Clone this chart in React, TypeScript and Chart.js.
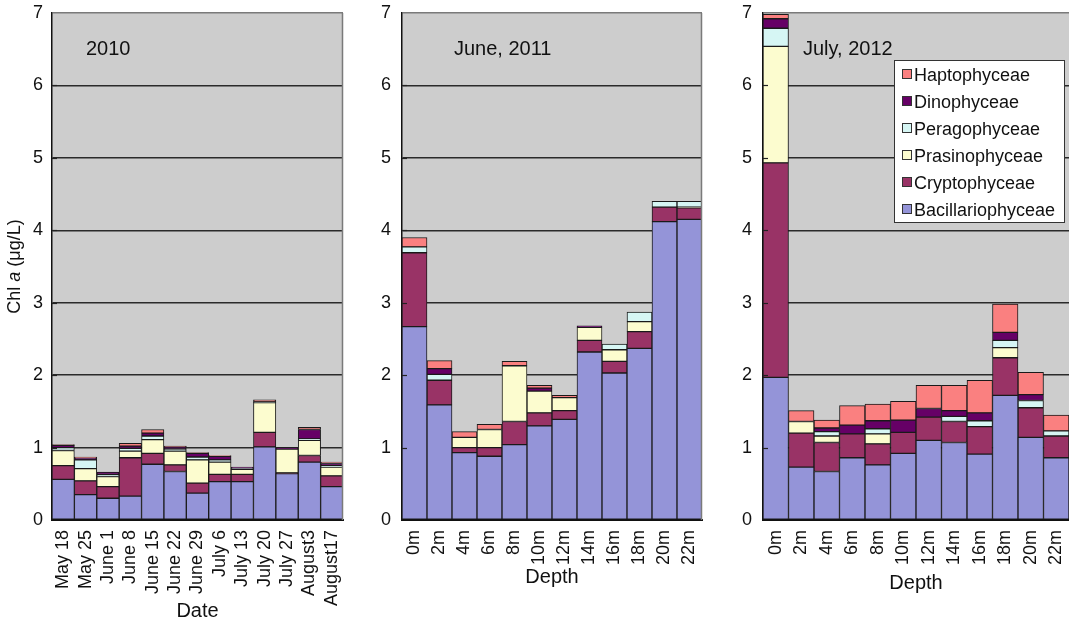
import React, { useEffect, useRef } from 'react';
import { Chart, registerables } from 'chart.js';

Chart.register(...registerables);

const FONT = '"Liberation Sans", Arial, Helvetica, sans-serif';

// ---- series (stack order bottom -> top) ----
const SERIES = ['Bacillariophyceae', 'Cryptophyceae', 'Prasinophyceae', 'Peragophyceae', 'Dinophyceae', 'Haptophyceae'];
const COLORS = ['#9494D8', '#993366', '#FCFCCF', '#D6F6F4', '#660066', '#FA8080'];

// ---- y axis ----
const Y_TICKS = [0, 1, 2, 3, 4, 5, 6, 7];
const Y_TITLE_PARTS: [string, boolean][] = [['Chl ', false], ['a', true], [' (μg/L)', false]];

// ---- panel 1 : 2010 ----
const labels2010 = ['May 18', 'May 25', 'June 1', 'June 8', 'June 15', 'June 22', 'June 29', 'July 6', 'July 13', 'July 20', 'July 27', 'August3', 'August17'];
const bac2010 = [0.56, 0.35, 0.30, 0.33, 0.77, 0.67, 0.37, 0.53, 0.53, 1.01, 0.64, 0.80, 0.46];
const cry2010 = [0.19, 0.19, 0.16, 0.53, 0.15, 0.09, 0.14, 0.10, 0.10, 0.20, 0.01, 0.09, 0.15];
const pra2010 = [0.21, 0.17, 0.14, 0.09, 0.19, 0.19, 0.32, 0.17, 0.07, 0.41, 0.33, 0.21, 0.12];
const per2010 = [0.04, 0.12, 0.03, 0.04, 0.05, 0.03, 0.04, 0.03, 0.01, 0.01, 0.00, 0.02, 0.02];
const din2010 = [0.03, 0.03, 0.03, 0.03, 0.04, 0.03, 0.05, 0.05, 0.02, 0.00, 0.02, 0.13, 0.03];
const hap2010 = [0.01, 0.01, 0.00, 0.04, 0.05, 0.01, 0.01, 0.01, 0.00, 0.03, 0.00, 0.03, 0.02];

// ---- panel 2 : June 2011 ----
const depthLabels = ['0m', '2m', '4m', '6m', '8m', '10m', '12m', '14m', '16m', '18m', '20m', '22m'];
const bac2011 = [2.67, 1.59, 0.93, 0.88, 1.04, 1.30, 1.39, 2.32, 2.03, 2.37, 4.12, 4.15];
const cry2011 = [1.02, 0.34, 0.07, 0.12, 0.32, 0.18, 0.12, 0.16, 0.16, 0.23, 0.20, 0.16];
const pra2011 = [0.00, 0.00, 0.14, 0.25, 0.77, 0.30, 0.18, 0.18, 0.16, 0.14, 0.00, 0.01];
const per2011 = [0.08, 0.08, 0.00, 0.00, 0.00, 0.00, 0.00, 0.00, 0.08, 0.13, 0.08, 0.08];
const din2011 = [0.00, 0.08, 0.00, 0.00, 0.00, 0.04, 0.00, 0.02, 0.00, 0.00, 0.00, 0.00];
const hap2011 = [0.13, 0.11, 0.08, 0.07, 0.06, 0.04, 0.03, 0.00, 0.00, 0.00, 0.00, 0.00];

// ---- panel 3 : July 2012 ----
const bac2012 = [1.97, 0.73, 0.67, 0.86, 0.76, 0.92, 1.10, 1.07, 0.91, 1.72, 1.14, 0.86];
const cry2012 = [2.96, 0.47, 0.40, 0.33, 0.29, 0.29, 0.32, 0.29, 0.38, 0.52, 0.41, 0.30];
const pra2012 = [1.61, 0.16, 0.09, 0.00, 0.14, 0.00, 0.00, 0.00, 0.00, 0.14, 0.00, 0.00];
const per2012 = [0.25, 0.00, 0.06, 0.00, 0.07, 0.00, 0.00, 0.07, 0.08, 0.10, 0.10, 0.07];
const din2012 = [0.13, 0.00, 0.05, 0.12, 0.11, 0.17, 0.12, 0.08, 0.11, 0.11, 0.08, 0.00];
const hap2012 = [0.06, 0.15, 0.11, 0.27, 0.23, 0.26, 0.32, 0.35, 0.45, 0.39, 0.31, 0.22];

const TITLE_2010 = '2010';
const TITLE_2011 = 'June, 2011';
const TITLE_2012 = 'July, 2012';
const X_TITLE_DATE = 'Date';
const X_TITLE_DEPTH = 'Depth';

type PanelProps = {
  left: number;
  width: number;
  yAxisWidth: number;
  rightPad: number;
  labels: string[];
  values: number[][];
  annotation: string;
  annotationX: number;
  xTitle: string;
  xTitlePad: number;
  yTickPad: number;
  showYTitle?: boolean;
  showLegend?: boolean;
  rightBorder?: boolean;
};

function Panel(p: PanelProps) {
  const ref = useRef<HTMLCanvasElement | null>(null);

  useEffect(() => {
    if (!ref.current) return;
    const datasets = SERIES.map((name, i) => ({
      label: name,
      data: p.values[i],
      backgroundColor: COLORS[i],
      borderColor: '#1a1a1a',
      borderWidth: 1,
      borderSkipped: false as any,
      categoryPercentage: 1,
      barPercentage: 1,
    }));

    const decor = {
      id: 'decor',
      beforeDraw(chart: any) {
        const { ctx, chartArea: a } = chart;
        ctx.save();
        ctx.fillStyle = '#CDCDCD';
        ctx.fillRect(a.left, a.top, a.right - a.left, a.bottom - a.top);
        ctx.restore();
      },
      afterDatasetsDraw(chart: any) {
        const { ctx, chartArea: a, scales } = chart;
        ctx.save();
        ctx.strokeStyle = '#222';
        ctx.lineWidth = 1.2;
        for (const v of Y_TICKS) {
          if (v === 0 || v === 7) continue;
          const y = Math.round(scales.y.getPixelForValue(v)) + 0.5;
          ctx.beginPath();
          ctx.moveTo(a.left, y);
          ctx.lineTo(a.left + 5, y);
          ctx.stroke();
        }
        if (p.rightBorder) {
          ctx.strokeStyle = '#7a7a7a';
          ctx.lineWidth = 1.5;
          ctx.beginPath();
          ctx.moveTo(a.right - 0.5, a.top);
          ctx.lineTo(a.right - 0.5, a.bottom);
          ctx.stroke();
        }
        ctx.restore();
      },
      afterDraw(chart: any) {
        const { ctx, chartArea: a } = chart;
        ctx.save();
        ctx.fillStyle = '#111';
        ctx.font = '20px ' + FONT;
        ctx.textBaseline = 'alphabetic';
        ctx.textAlign = 'left';
        ctx.fillText(p.annotation, a.left + p.annotationX, 55);

        if (p.showYTitle) {
          ctx.save();
          ctx.translate(15, (a.top + a.bottom) / 2);
          ctx.rotate(-Math.PI / 2);
          ctx.textBaseline = 'middle';
          let total = 0;
          const widths = Y_TITLE_PARTS.map(([t, it]) => {
            ctx.font = (it ? 'italic ' : '') + '18px ' + FONT;
            const w = ctx.measureText(t).width;
            total += w;
            return w;
          });
          let x = -total / 2;
          Y_TITLE_PARTS.forEach(([t, it], i) => {
            ctx.font = (it ? 'italic ' : '') + '18px ' + FONT;
            ctx.fillText(t, x, 0);
            x += widths[i];
          });
          ctx.restore();
        }

        if (p.showLegend) {
          const bx = a.left + 131;
          const by = 60;
          const bw = 171;
          const bh = 163;
          ctx.fillStyle = '#ffffff';
          ctx.fillRect(bx, by, bw, bh);
          ctx.strokeStyle = '#333';
          ctx.lineWidth = 1;
          ctx.strokeRect(bx + 0.5, by + 0.5, bw - 1, bh - 1);
          ctx.font = '18px ' + FONT;
          ctx.textBaseline = 'alphabetic';
          const order = SERIES.map((_, i) => i).reverse();
          order.forEach((si, row) => {
            const cy = by + 14 + row * 27;
            ctx.fillStyle = COLORS[si];
            ctx.fillRect(bx + 8, cy - 5, 10, 10);
            ctx.strokeStyle = '#333';
            ctx.strokeRect(bx + 8.5, cy - 4.5, 9, 9);
            ctx.fillStyle = '#111';
            ctx.fillText(SERIES[si], bx + 20, cy + 6.5);
          });
        }
        ctx.restore();
      },
    };

    const chart = new Chart(ref.current, {
      type: 'bar',
      data: { labels: p.labels, datasets },
      options: {
        responsive: false,
        animation: false,
        layout: { padding: { top: 13, left: 0, right: p.rightPad, bottom: 0 } },
        plugins: { legend: { display: false }, tooltip: { enabled: false } },
        scales: {
          x: {
            stacked: true,
            grid: { display: false, drawTicks: false },
            border: { display: true, color: '#111', width: 2 },
            ticks: {
              autoSkip: false,
              minRotation: 90,
              maxRotation: 90,
              padding: 10,
              color: '#111',
              font: { size: 18, family: FONT },
            },
            title: {
              display: true,
              text: p.xTitle,
              color: '#111',
              font: { size: 20, family: FONT },
              padding: { top: 0, bottom: p.xTitlePad },
            },
            afterFit: (s: any) => {
              s.height = 106;
              s.paddingLeft = 0;
              s.paddingRight = 0;
            },
          },
          y: {
            stacked: true,
            min: 0,
            max: 7,
            afterBuildTicks: (s: any) => {
              s.ticks = Y_TICKS.map((v) => ({ value: v }));
            },
            ticks: {
              padding: p.yTickPad,
              color: '#111',
              font: { size: 18, family: FONT },
            },
            grid: {
              drawTicks: false,
              color: (c: any) => (c.tick && c.tick.value === 7 ? '#7a7a7a' : '#2a2a2a'),
              lineWidth: 1.5,
            },
            border: { display: true, color: '#111', width: 1.5 },
            afterFit: (s: any) => {
              s.width = p.yAxisWidth;
              s.paddingTop = 0;
              s.paddingBottom = 0;
            },
          },
        },
      } as any,
      plugins: [decor],
    });
    return () => chart.destroy();
  }, []);

  return (
    <canvas
      ref={ref}
      width={p.width}
      height={626}
      style={{ position: 'absolute', left: p.left, top: 0, display: 'block' }}
    />
  );
}

export default function App() {
  return (
    <div style={{ position: 'absolute', left: 0, top: 0, width: 1069, height: 626, background: '#fff', overflow: 'hidden' }}>
      <Panel
        left={0}
        width={360}
        yAxisWidth={52}
        rightPad={17}
        labels={labels2010}
        values={[bac2010, cry2010, pra2010, per2010, din2010, hap2010]}
        annotation={TITLE_2010}
        annotationX={34}
        xTitle={X_TITLE_DATE}
        xTitlePad={3}
        yTickPad={9}
        showYTitle
        rightBorder
      />
      <Panel
        left={360}
        width={360}
        yAxisWidth={42}
        rightPad={18}
        labels={depthLabels}
        values={[bac2011, cry2011, pra2011, per2011, din2011, hap2011]}
        annotation={TITLE_2011}
        annotationX={52}
        xTitle={X_TITLE_DEPTH}
        xTitlePad={37}
        yTickPad={11}
        rightBorder
      />
      <Panel
        left={720}
        width={349}
        yAxisWidth={43}
        rightPad={0}
        labels={depthLabels}
        values={[bac2012, cry2012, pra2012, per2012, din2012, hap2012]}
        annotation={TITLE_2012}
        annotationX={40}
        xTitle={X_TITLE_DEPTH}
        xTitlePad={31}
        yTickPad={11}
        showLegend
      />
    </div>
  );
}
